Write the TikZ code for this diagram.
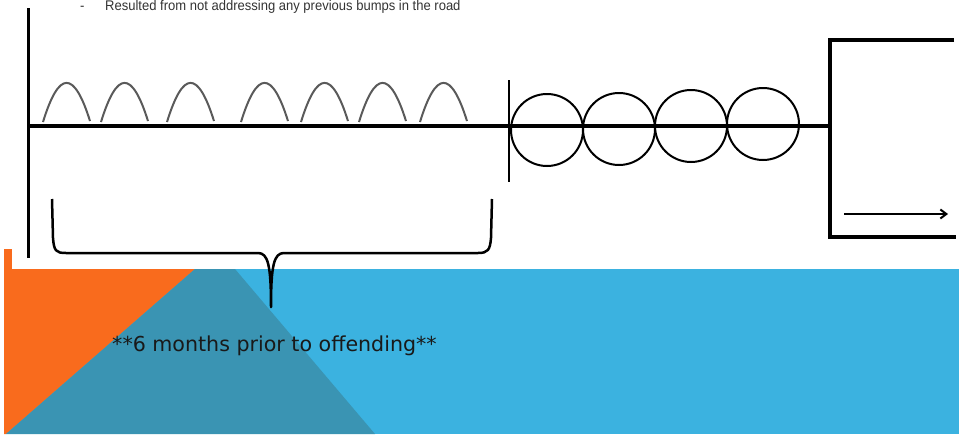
\documentclass[tikz,border=0pt]{standalone}
\usepackage{fontspec}
\setmainfont{Liberation Sans}
\newfontfamily\widesans{DejaVu Sans}
\newfontfamily\narrowsans[FakeStretch=0.93]{Liberation Sans}
\usetikzlibrary{arrows.meta, positioning}
\definecolor{slideorange}{HTML}{F96B1D}
\definecolor{slideblue}{HTML}{3BB2E0}
\definecolor{slideteal}{HTML}{3A94B3}
\definecolor{bumpgray}{HTML}{5A5A5A}

\begin{document}
\begin{tikzpicture}[
    x=1pt, y=-1pt,
    road/.style={line width=4pt},
    post/.style={line width=3pt},
    bump/.style={draw=bumpgray, line width=2pt},
    ring/.style={circle, draw, line width=2pt, minimum size=72pt, inner sep=0pt},
    brace/.style={line width=2.5pt, line join=round},
    topnote/.style={font=\narrowsans\fontsize{14}{16}\selectfont, text=black!80, anchor=base west, inner sep=0pt},
    >={Straight Barb[length=6pt, width=9pt]}
]
\useasboundingbox (0,0) rectangle (959,434);
\clip (0,0) rectangle (959,434);

% slide background
\fill[slideorange] (4,249) rectangle (12,270);
\fill[slideblue] (4,269) rectangle (959,434);
\fill[slideorange] (4,269) -- (195,269) -- (6,434) -- (4,434) -- cycle;
\fill[slideteal] (195,269) -- (235,269) -- (375,434) -- (6,434) -- cycle;

% top note
\node[topnote] (dash) at (80,10) {-};
\node[topnote] (note) at (105,10) {Resulted from not addressing any previous bumps in the road};

% road
\coordinate (start) at (28,126);
\coordinate (stop) at (830,126);
\coordinate (posttop) at (28,8);
\coordinate (postbot) at (28,258);
\draw[post] (posttop) -- (postbot);
\draw[road] (start) -- (stop);

% bumps in the road
\foreach \x in {43,101,167,241,301,359,420} {
    \draw[bump] (\x,122) .. controls (\x+16,70) and (\x+31,70) .. (\x+47,121);
}

% divider
\coordinate (divtop) at (509,80);
\coordinate (divbot) at (509,182);
\draw[line width=2pt] (divtop) -- (divbot);

% rings
\foreach \i/\x/\y in {1/547/130, 2/619/129, 3/691/126, 4/763/124} {
    \node[ring] (c\i) at (\x,\y) {};
}

% exit bracket
\coordinate (exta) at (954,40);
\coordinate (extb) at (830,40);
\coordinate (extc) at (830,237);
\coordinate (extd) at (956,237);
\draw[road] (exta) -- (extb) -- (extc) -- (extd);
\coordinate (arra) at (844,214);
\coordinate (arrb) at (948,214);
\draw[->, line width=2pt] (arra) -- (arrb);

% brace under the bumps
\coordinate (bl) at (52,199);
\coordinate (br) at (492,199);
\coordinate (tip) at (271,307);
\draw[brace] (bl) -- (53,238) .. controls (54,251) and (56,253) .. (66,253)
    -- (258,253) .. controls (268,253) and (271,265) .. (tip)
    .. controls (271,265) and (274,253) .. (284,253)
    -- (478,253) .. controls (488,253) and (490,250) .. (491,238) -- (br);

\node[font=\widesans\fontsize{20.6}{24}\selectfont, text=black!90, anchor=base west, inner sep=0pt] (label) at (112,351) {**6 months prior to offending**};

\end{tikzpicture}
\end{document}
